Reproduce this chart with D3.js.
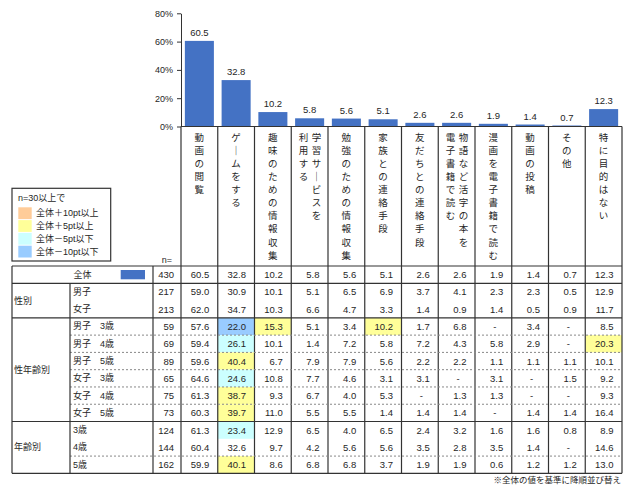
<!DOCTYPE html>
<html><head><meta charset="utf-8">
<script src="https://cdn.jsdelivr.net/npm/d3@7"></script>
<style>
body{margin:0;background:#fff}
svg{display:block}
text{font-family:"Liberation Sans","Noto Sans CJK JP",sans-serif;fill:#262626}
</style>
</head><body>
<svg id="c" width="634" height="488"></svg>
<script>
// ---------- data ----------
const categories = ["動画の閲覧","ゲームをする","趣味のための情報収集","学習サービスを利用する","勉強のための情報収集","家族との連絡手段","友だちとの連絡手段","物語など活字の本を電子書籍で読む","漫画を電子書籍で読む","動画の投稿","その他","特に目的はない"];
const categoryLines = [["動画の閲覧"],["ゲームをする"],["趣味のための情報収集"],["学習サービスを","利用する"],["勉強のための情報収集"],["家族との連絡手段"],["友だちとの連絡手段"],["物語など活字の本を","電子書籍で読む"],["漫画を電子書籍で読む"],["動画の投稿"],["その他"],["特に目的はない"]];
const totalLabel = "全体";
const totalN = 430;
const totalValues = [60.5,32.8,10.2,5.8,5.6,5.1,2.6,2.6,1.9,1.4,0.7,12.3];
const yTicks = [0,20,40,60,80];

const groups = ["性別","性年齢別","年齢別"];
const rowGroup = [0,0,1,1,1,1,1,1,2,2,2];
const rowLabels = ["男子","女子","男子　3歳","男子　4歳","男子　5歳","女子　3歳","女子　4歳","女子　5歳","3歳","4歳","5歳"];
const rowN = [217,213,59,69,89,65,75,73,124,144,162];
const rowValues = [
  [59.0,30.9,10.1,5.1,6.5,6.9,3.7,4.1,2.3,2.3,0.5,12.9],
  [62.0,34.7,10.3,6.6,4.7,3.3,1.4,0.9,1.4,0.5,0.9,11.7],
  [57.6,22.0,15.3,5.1,3.4,10.2,1.7,6.8,null,3.4,null,8.5],
  [59.4,26.1,10.1,1.4,7.2,5.8,7.2,4.3,5.8,2.9,null,20.3],
  [59.6,40.4,6.7,7.9,7.9,5.6,2.2,2.2,1.1,1.1,1.1,10.1],
  [64.6,24.6,10.8,7.7,4.6,3.1,3.1,null,3.1,null,1.5,9.2],
  [61.3,38.7,9.3,6.7,4.0,5.3,null,1.3,1.3,null,null,9.3],
  [60.3,39.7,11.0,5.5,5.5,1.4,1.4,1.4,null,1.4,1.4,16.4],
  [61.3,23.4,12.9,6.5,4.0,6.5,2.4,3.2,1.6,1.6,0.8,8.9],
  [60.4,32.6,9.7,4.2,5.6,5.6,3.5,2.8,3.5,1.4,null,14.6],
  [59.9,40.1,8.6,6.8,6.8,3.7,1.9,1.9,0.6,1.2,1.2,13.0]
];
// line drawn below each row: "solid" | "dash" | "none"
const rowSeparator = ["none","solid","dash","dash","dash","dash","dash","solid","none","dash","solid"];

const legendTitle = "n=30以上で";
const legendLabels = ["全体＋10pt以上","全体＋5pt以上","全体－5pt以下","全体－10pt以下"];
const legendColors = ["#FFCC99","#FFFF99","#CCFFFF","#99CCFF"];
const footnote = "※全体の値を基準に降順並び替え";

// ---------- layout ----------
const svg = d3.select("#c");
const barColor = "#4472C4";
const lineColor = "#333";
const colLeft = 181, colRight = 622;
const tableLeft = 12, subLeft = 70, nLeft = 153;
const tableTop = 266, rowH = 17.28;
const nRows = rowLabels.length + 1;
const tableBottom = tableTop + rowH * nRows;

const x = d3.scaleBand().domain(categories).range([colLeft, colRight]).padding(0);
const xBar = d3.scaleBand().domain(categories).range([colLeft, colRight]).paddingInner(0.21).paddingOuter(0.105);
const y = d3.scaleLinear().domain([0, 80]).range([126.5, 13.3]);
const rowY = i => tableTop + i * rowH;

// highlight cells
function hl(v, t, n) {
  if (v == null || n < 30) return null;
  const d = Math.round((v - t) * 10) / 10;
  if (d >= 10) return legendColors[0];
  if (d >= 5) return legendColors[1];
  if (d <= -10) return legendColors[3];
  if (d <= -5) return legendColors[2];
  return null;
}
const cells = [];
rowValues.forEach((vals, r) => vals.forEach((v, c) => {
  const col = hl(v, totalValues[c], rowN[r]);
  if (col) cells.push({r: r + 1, c, col});
}));
svg.append("g").selectAll("rect").data(cells).join("rect")
  .attr("x", d => x(categories[d.c])).attr("width", x.bandwidth())
  .attr("y", d => rowY(d.r)).attr("height", rowH)
  .attr("fill", d => d.col);

// ---------- bars ----------
svg.append("g").selectAll("rect").data(totalValues).join("rect")
  .attr("x", (d, i) => xBar(categories[i]))
  .attr("width", xBar.bandwidth())
  .attr("y", d => y(d)).attr("height", d => y(0) - y(d))
  .attr("fill", barColor);
svg.append("g").selectAll("text").data(totalValues).join("text")
  .attr("x", (d, i) => x(categories[i]) + x.bandwidth() / 2)
  .attr("y", d => y(d) - 5)
  .attr("text-anchor", "middle").attr("font-size", 9.5)
  .text(d => d.toFixed(1));

// y axis
const yAxis = svg.append("g").attr("transform", `translate(${colLeft},0)`)
  .call(d3.axisLeft(y).tickValues(yTicks).tickFormat(d => d + "%").tickSize(4).tickSizeOuter(0).tickPadding(4));
yAxis.select(".domain").attr("stroke", lineColor);
yAxis.selectAll(".tick line").attr("stroke", lineColor);
yAxis.selectAll(".tick text").attr("font-size", 9).attr("fill", "#262626")
  .style("font-family", '"Liberation Sans",sans-serif');

// baseline
svg.append("line").attr("x1", colLeft).attr("x2", colRight).attr("y1", y(0)).attr("y2", y(0))
  .attr("stroke", lineColor).attr("stroke-width", 1.2);

// column verticals (header + table)
const bounds = categories.map(c => x(c)).concat([colRight]);
svg.append("g").selectAll("line").data(bounds).join("line")
  .attr("x1", d => d).attr("x2", d => d).attr("y1", y(0)).attr("y2", tableBottom)
  .attr("stroke", lineColor).attr("stroke-width", 1.2);

// vertical category labels
const labelG = svg.append("g");
categoryLines.forEach((lines, i) => {
  const cx = x(categories[i]) + x.bandwidth() / 2;
  lines.forEach((line, li) => {
    const lx = lines.length === 1 ? cx : cx + (li === 0 ? 6.8 : -6.2);
    Array.from(line).forEach((ch, k) => {
      const cy = 136.7 + k * 13.1;
      const t = labelG.append("text")
        .attr("x", lx).attr("y", cy)
        .attr("text-anchor", "middle").attr("dominant-baseline", "central")
        .attr("font-size", 9.5).style("font-family", '"Noto Sans CJK JP",sans-serif')
        .text(ch === "ー" ? "｜" : ch);
    });
  });
});

// legend
const lg = svg.append("g");
lg.append("rect").attr("x", 12).attr("y", 188.3).attr("width", 98.7).attr("height", 72.7)
  .attr("fill", "none").attr("stroke", lineColor).attr("stroke-width", 1.2);
lg.append("text").attr("x", 18).attr("y", 198).attr("dominant-baseline", "central")
  .attr("font-size", 9).text(legendTitle);
legendLabels.forEach((l, i) => {
  const yy = 207.3 + i * 12.8;
  lg.append("rect").attr("x", 18.3).attr("y", yy).attr("width", 13.4).attr("height", 11.8).attr("fill", legendColors[i]);
  lg.append("text").attr("x", 36).attr("y", yy + 6).attr("dominant-baseline", "central")
    .attr("font-size", 9).text(l);
});
svg.append("text").attr("x", 167).attr("y", 260).attr("text-anchor", "middle").attr("dominant-baseline", "central")
  .attr("font-size", 9).text("n=");

// ---------- table ----------
const tg = svg.append("g");
// horizontal lines
tg.append("line").attr("x1", tableLeft).attr("x2", colRight).attr("y1", tableTop).attr("y2", tableTop)
  .attr("stroke", lineColor).attr("stroke-width", 1.2);
tg.append("line").attr("x1", tableLeft).attr("x2", colRight).attr("y1", rowY(1)).attr("y2", rowY(1))
  .attr("stroke", lineColor).attr("stroke-width", 1.2);
rowSeparator.forEach((s, r) => {
  const yy = rowY(r + 2);
  if (s === "solid") {
    tg.append("line").attr("x1", tableLeft).attr("x2", colRight).attr("y1", yy).attr("y2", yy)
      .attr("stroke", lineColor).attr("stroke-width", 1.2);
  } else if (s === "dash") {
    tg.append("line").attr("x1", subLeft).attr("x2", colRight).attr("y1", yy).attr("y2", yy)
      .attr("stroke", "#888").attr("stroke-width", 1).attr("stroke-dasharray", "2,2");
  }
});
// verticals in label area
[[tableLeft, tableTop], [nLeft, tableTop], [subLeft, rowY(1)]].forEach(([xx, y1]) => {
  tg.append("line").attr("x1", xx).attr("x2", xx).attr("y1", y1).attr("y2", tableBottom)
    .attr("stroke", lineColor).attr("stroke-width", 1.2);
});

// total row
const cy0 = rowY(0) + rowH / 2;
tg.append("text").attr("x", 82.5).attr("y", cy0).attr("text-anchor", "middle").attr("dominant-baseline", "central")
  .attr("font-size", 9).text(totalLabel);
tg.append("rect").attr("x", 120.7).attr("y", 270).attr("width", 24.3).attr("height", 9.3).attr("fill", barColor);

const allRows = [{n: totalN, vals: totalValues}].concat(rowValues.map((v, i) => ({n: rowN[i], vals: v})));
allRows.forEach((row, r) => {
  const cy = rowY(r) + rowH / 2;
  tg.append("text").attr("x", 174).attr("y", cy).attr("text-anchor", "end").attr("dominant-baseline", "central")
    .attr("font-size", 9.5).text(row.n);
  tg.append("g").selectAll("text").data(row.vals).join("text")
    .attr("x", (d, c) => x(categories[c]) + x.bandwidth() - (d == null ? 17 : 8.5))
    .attr("y", cy).attr("text-anchor", d => d == null ? "middle" : "end").attr("dominant-baseline", "central")
    .attr("font-size", 9.5).text(d => d == null ? "-" : d.toFixed(1));
});
// sub labels
rowLabels.forEach((l, i) => {
  tg.append("text").attr("x", 73).attr("y", rowY(i + 1) + rowH / 2).attr("dominant-baseline", "central")
    .attr("font-size", 9).text(l);
});
// group labels
groups.forEach((g, gi) => {
  const idx = rowGroup.map((v, i) => v === gi ? i + 1 : -1).filter(v => v >= 0);
  const top = rowY(d3.min(idx)), bot = rowY(d3.max(idx) + 1);
  tg.append("text").attr("x", 14).attr("y", (top + bot) / 2).attr("dominant-baseline", "central")
    .attr("font-size", 9).text(g);
});

// footnote
svg.append("text").attr("x", 621).attr("y", 480).attr("text-anchor", "end").attr("dominant-baseline", "central")
  .attr("font-size", 8.5).text(footnote);
</script>
</body></html>
